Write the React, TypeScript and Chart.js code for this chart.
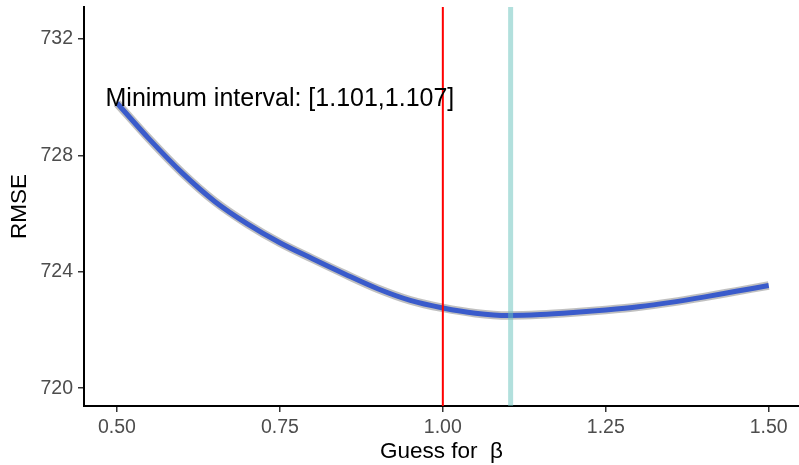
import { useEffect, useRef } from 'react';
import { Chart, registerables } from 'chart.js';

Chart.register(...registerables);

// ---- data ----
const betaGuesses = [0.5, 0.55, 0.6, 0.65, 0.7, 0.75, 0.8, 0.85, 0.9, 0.95, 1.0, 1.05, 1.1, 1.15, 1.2, 1.25, 1.3, 1.35, 1.4, 1.45, 1.5];
const rmseValues = [729.8, 728.55, 727.4, 726.42, 725.65, 725.0, 724.45, 723.92, 723.42, 723.02, 722.76, 722.58, 722.5, 722.53, 722.6, 722.69, 722.8, 722.95, 723.13, 723.33, 723.53];

const xTicks = [0.5, 0.75, 1.0, 1.25, 1.5];
const xTickLabels = ['0.50', '0.75', '1.00', '1.25', '1.50'];
const yTicks = [720, 724, 728, 732];
const yTickLabels = ['720', '724', '728', '732'];

const referenceBeta = 1.0;
const minimumBeta = 1.104;

const annotationText = 'Minimum interval: [1.101,1.107]';
const annotationX = 0.75;
const annotationY = 730;

const xLimits = [0.4494, 1.5465];
const yLimits = [719.39, 733.1];

const FONT = '"Liberation Sans", Arial, Helvetica, sans-serif';

export default function App() {
  const canvasRef = useRef<HTMLCanvasElement>(null);

  useEffect(() => {
    const canvas = canvasRef.current;
    if (!canvas) return;

    const curve = betaGuesses.map((x, i) => ({ x, y: rmseValues[i] }));

    const annotationPlugin = {
      id: 'annotationText',
      afterDatasetsDraw(chart: any) {
        const { ctx, scales } = chart;
        const px = scales.x.getPixelForValue(annotationX);
        const py = scales.y.getPixelForValue(annotationY);
        ctx.save();
        ctx.font = `25px ${FONT}`;
        ctx.fillStyle = '#000000';
        ctx.textAlign = 'center';
        ctx.textBaseline = 'middle';
        ctx.fillText(annotationText, px, py + 2);
        ctx.restore();
      },
    };

    const noEdgePadding = (scale: any) => {
      scale.paddingTop = 0;
      scale.paddingBottom = 0;
      scale.paddingLeft = 0;
      scale.paddingRight = 0;
    };

    const chart = new Chart(canvas, {
      type: 'line',
      data: {
        datasets: [
          {
            label: 'minimum',
            data: [
              { x: minimumBeta, y: yLimits[0] },
              { x: minimumBeta, y: yLimits[1] },
            ],
            borderColor: 'rgba(102,194,187,0.5)',
            borderWidth: 5,
            pointRadius: 0,
            order: 0,
          },
          {
            label: 'reference',
            data: [
              { x: referenceBeta, y: yLimits[0] },
              { x: referenceBeta, y: yLimits[1] },
            ],
            borderColor: '#FF0000',
            borderWidth: 2,
            pointRadius: 0,
            order: 1,
          },
          {
            label: 'fit',
            data: curve,
            borderColor: '#3A5BCB',
            borderWidth: 5,
            pointRadius: 0,
            cubicInterpolationMode: 'monotone',
            order: 2,
          },
          {
            label: 'band',
            data: curve,
            borderColor: 'rgba(150,150,150,0.6)',
            borderWidth: 8.5,
            pointRadius: 0,
            cubicInterpolationMode: 'monotone',
            order: 3,
          },
        ],
      },
      options: {
        animation: false,
        responsive: false,
        devicePixelRatio: 1,
        layout: { padding: { top: 7, left: 0, right: 0, bottom: 0 } },
        plugins: {
          legend: { display: false },
          tooltip: { enabled: false },
        },
        scales: {
          x: {
            type: 'linear',
            min: xLimits[0],
            max: xLimits[1],
            afterBuildTicks: (scale: any) => {
              scale.ticks = xTicks.map((v) => ({ value: v }));
            },
            afterFit: (scale: any) => {
              scale.height = 59;
              noEdgePadding(scale);
            },
            grid: {
              drawOnChartArea: false,
              drawTicks: true,
              tickLength: 6,
              color: '#333333',
              lineWidth: 1.5,
            },
            border: { display: true, color: '#000000', width: 2 },
            ticks: {
              autoSkip: false,
              maxRotation: 0,
              padding: 4,
              color: '#4D4D4D',
              font: { family: FONT, size: 19.5 },
              callback: (value: any) => xTickLabels[xTicks.indexOf(Number(value))],
            },
            title: {
              display: true,
              text: 'Guess for  β',
              color: '#000000',
              font: { family: FONT, size: 22.5 },
              padding: { top: 0, bottom: 0 },
            },
          },
          y: {
            type: 'linear',
            min: yLimits[0],
            max: yLimits[1],
            afterBuildTicks: (scale: any) => {
              scale.ticks = yTicks.map((v) => ({ value: v }));
            },
            afterFit: (scale: any) => {
              scale.width = 84;
              noEdgePadding(scale);
            },
            grid: {
              drawOnChartArea: false,
              drawTicks: true,
              tickLength: 6,
              color: '#333333',
              lineWidth: 1.5,
            },
            border: { display: true, color: '#000000', width: 2 },
            ticks: {
              autoSkip: false,
              padding: 5,
              color: '#4D4D4D',
              font: { family: FONT, size: 19.5 },
              callback: (value: any) => yTickLabels[yTicks.indexOf(Number(value))],
            },
            title: {
              display: true,
              text: 'RMSE',
              color: '#000000',
              font: { family: FONT, size: 22.5 },
              padding: { top: 6, bottom: 0 },
            },
          },
        },
      },
      plugins: [annotationPlugin],
    } as any);

    return () => {
      chart.destroy();
    };
  }, []);

  return (
    <div style={{ position: 'fixed', left: 0, top: 0, width: 799, height: 465, background: '#ffffff' }}>
      <canvas ref={canvasRef} width={799} height={465} style={{ display: 'block' }} />
    </div>
  );
}
